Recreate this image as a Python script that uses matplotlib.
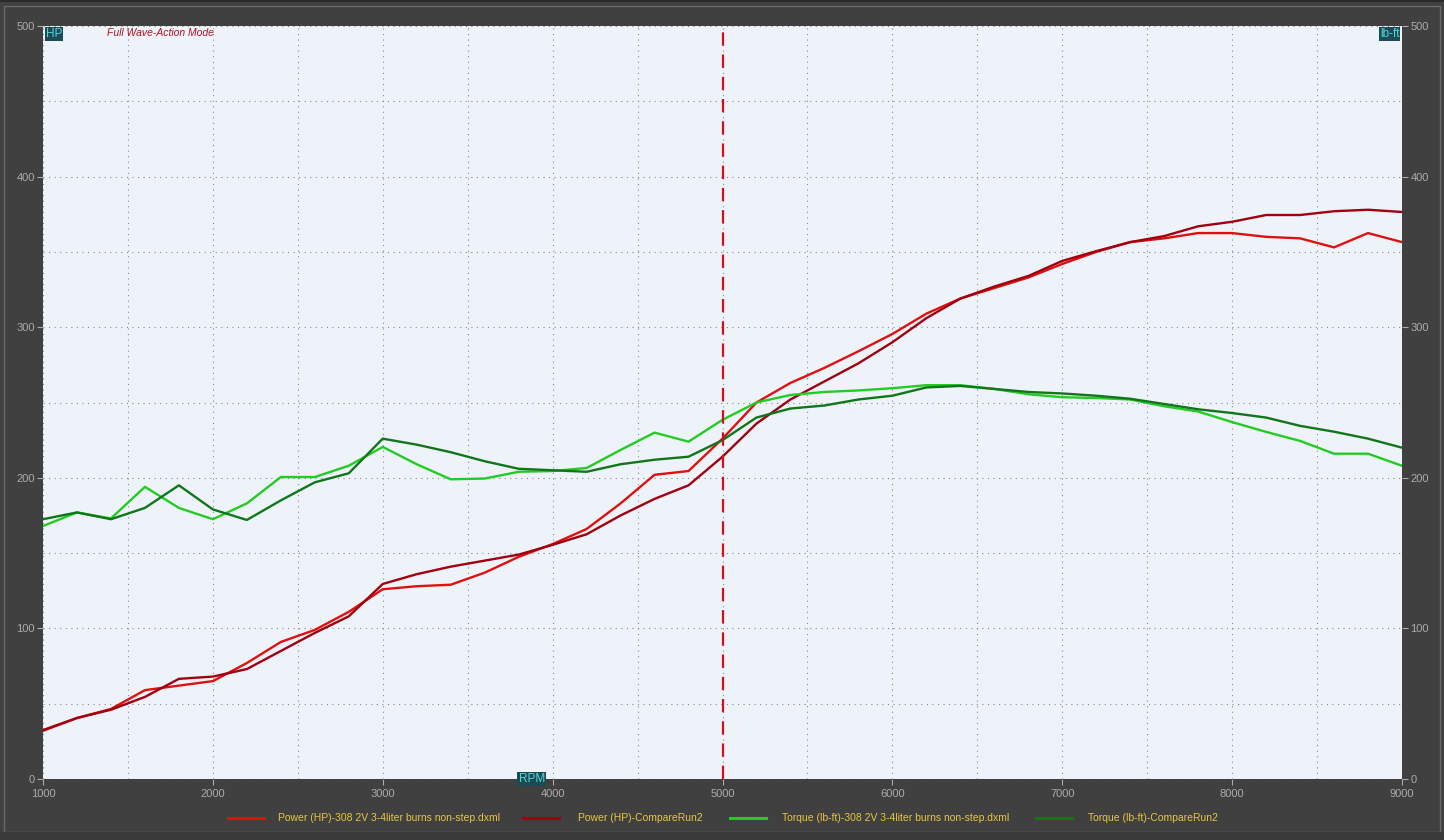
import matplotlib
matplotlib.use('Agg')
import matplotlib.pyplot as plt
from matplotlib.lines import Line2D
from matplotlib.patches import Rectangle
import numpy as np

plt.rcParams['font.family'] = ['Liberation Sans Narrow', 'Liberation Sans', 'DejaVu Sans']

rpm = np.arange(1000, 9001, 200)

power_run1 = [32, 40.5, 46.5, 59, 62, 65, 77, 91, 99, 111,
              126, 128, 129, 137, 147.5, 156, 166, 183, 202, 204.5,
              226, 250, 263, 273, 284, 295.5, 309, 319, 326, 333,
              342, 350, 356.5, 359, 362.5, 362.5, 360, 359, 353, 362.5,
              356.5]
power_run2 = [32.5, 40.5, 46, 54.5, 66.5, 68, 73, 85, 97, 108,
              129.5, 136, 141, 145, 149, 155.5, 162.5, 175, 186, 195,
              214, 236, 252, 264, 276, 290, 306, 319, 327, 334,
              344, 350.5, 356.5, 360.5, 367, 370, 374.5, 374.5, 377, 378,
              376.5]
torque_run1 = [168, 177, 173, 194, 180, 172.5, 183, 200.5, 200.5, 208,
               220.5, 209, 199, 199.5, 204, 204.5, 206.5, 218.5, 230, 224,
               238.5, 250, 255, 257, 258, 259.5, 261.5, 261.5, 259, 255.5,
               253.5, 253, 252, 247.5, 244, 237, 230.5, 224.5, 216, 216,
               208]
torque_run2 = [172.5, 177, 172.5, 180, 195, 179, 172, 185, 197, 203,
               226, 222, 217, 211, 206, 205, 204, 209, 212, 214,
               225, 240, 246, 248, 252, 254.5, 260, 261, 259, 257,
               256, 254.5, 252.5, 249, 245.5, 243, 240, 234.5, 230.6, 226,
               220]

labels = ['Power (HP)-308 2V 3-4liter burns non-step.dxml',
          'Power (HP)-CompareRun2',
          'Torque (lb-ft)-308 2V 3-4liter burns non-step.dxml',
          'Torque (lb-ft)-CompareRun2']
colors = ['#E01010', '#A0000F', '#22CC22', '#10761A']
marker_rpm = 5000

BG = '#404040'
PLOT_BG = '#EEF3FA'
TICK_C = '#ABABAB'

fig = plt.figure(figsize=(14.44, 8.4), dpi=100, facecolor=BG)
ax = fig.add_axes([43 / 1444, 1 - 779 / 840, (1402 - 43) / 1444, (779 - 26) / 840])
ax.set_facecolor(PLOT_BG)

for vals, c in zip([power_run1, power_run2, torque_run1, torque_run2], colors):
    ax.plot(rpm, vals, color=c, lw=1.7, zorder=3)

ax.axvline(marker_rpm, color='#D01020', lw=1.6, ls=(0, (6, 4)), zorder=4)

ax.set_xlim(1000, 9000)
ax.set_ylim(0, 500)
ax.set_xticks(np.arange(1000, 9001, 1000))
ax.set_xticks(np.arange(1500, 9000, 1000), minor=True)
ax.set_yticks(np.arange(0, 501, 100))
ax.set_yticks(np.arange(50, 500, 100), minor=True)
ax.grid(True, which='both', color='#8A8A8A', ls=(0, (1, 4)), lw=0.8)
ax.tick_params(which='both', colors=TICK_C, labelsize=8, length=4, width=0.8)
ax.tick_params(which='minor', length=0)
ax.tick_params(axis='x', pad=3)
ax.tick_params(axis='y', pad=2)
for s in ax.spines.values():
    s.set_visible(False)

ax2 = ax.twinx()
ax2.set_ylim(0, 500)
ax2.set_yticks(np.arange(0, 501, 100))
ax2.tick_params(colors=TICK_C, labelsize=8, length=4, width=0.8, pad=2)
for s in ax2.spines.values():
    s.set_visible(False)

box = dict(boxstyle='square,pad=0.1', fc='#1E4A55', ec='none')
ax.text(0.002, 0.997, 'HP', transform=ax.transAxes, color='#4FD8D8', fontsize=8.5,
        ha='left', va='top', bbox=box, zorder=5)
ax.text(0.998, 0.997, 'lb-ft', transform=ax.transAxes, color='#4FD8D8', fontsize=8.5,
        ha='right', va='top', bbox=box, zorder=5)
ax.text(0.35, 0.0, 'RPM', transform=ax.transAxes, color='#4FD8D8', fontsize=8.5,
        ha='left', va='center', bbox=box, zorder=5, clip_on=False)
ax.text(0.047, 0.9975, 'Full Wave-Action Mode', transform=ax.transAxes, color='#B01020',
        fontsize=7.5, style='italic', ha='left', va='top', zorder=5,
        family=['Liberation Sans', 'DejaVu Sans'])

# legend drawn by hand along the bottom strip
leg_line_x = [228, 523, 730, 1036]
leg_text_x = [278, 578, 782, 1088]
for lx, tx, c, lab in zip(leg_line_x, leg_text_x, colors, labels):
    fig.add_artist(Line2D([lx / 1444, (lx + 36) / 1444], [1 - 818 / 840] * 2,
                          color=c, lw=2.2, transform=fig.transFigure))
    fig.text(tx / 1444, 1 - 818 / 840, lab, color='#E8C640', fontsize=7.5,
             ha='left', va='center')

# outer frame lines
fig.add_artist(Rectangle((4 / 1444, 1 - 832 / 840), 1436 / 1444, 826 / 840,
                         transform=fig.transFigure, fill=False, ec='#6A6A6A', lw=1))
fig.add_artist(Rectangle((0, 0), 1, 8 / 840, transform=fig.transFigure,
                         fc='#3A3A3A', ec='none'))
fig.add_artist(Rectangle((0, 0.998), 1, 0.002, transform=fig.transFigure,
                         fc='#2A2A2A', ec='none'))

fig.savefig('out.png', dpi=100, facecolor=BG)
